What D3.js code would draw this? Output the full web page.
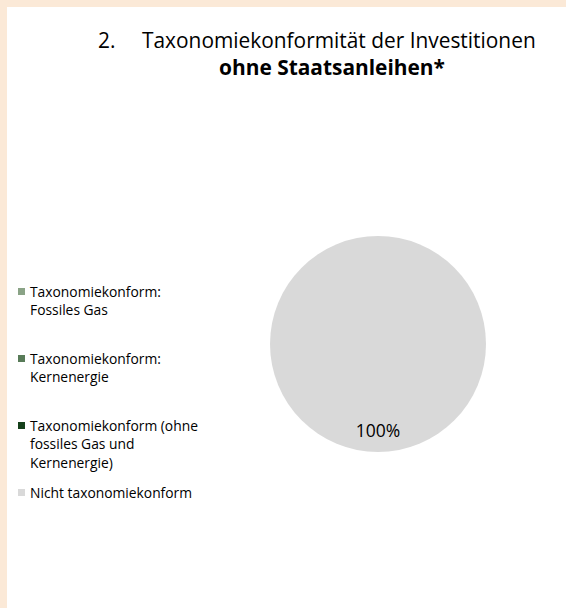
<!DOCTYPE html>
<html lang="de">
<head>
<meta charset="UTF-8">
<title>Taxonomiekonformität ohne Staatsanleihen</title>
<script src="https://d3js.org/d3.v7.min.js"></script>
<style>
  html, body { margin: 0; padding: 0; background: #fbe9d7; }
  svg { display: block; font-family: "Open Sans", "Noto Sans", sans-serif; }
</style>
</head>
<body>
<script>
  // chart data
  const categories = [
    "Taxonomiekonform: Fossiles Gas",
    "Taxonomiekonform: Kernenergie",
    "Taxonomiekonform (ohne fossiles Gas und Kernenergie)",
    "Nicht taxonomiekonform"
  ];
  const values = [0, 0, 0, 100];
  const colors = ["#8aa386", "#587b58", "#15401a", "#d9d9d9"];
  const titleNumber = "2.";
  const titleLine1 = "Taxonomiekonformität der Investitionen";
  const titleLine2 = "ohne Staatsanleihen*";

  const width = 566, height = 608;

  const svg = d3.select("body").append("svg")
      .attr("width", width)
      .attr("height", height);

  // scale a font size so the text spans the wanted width
  function fitSize(sel, target) {
    const w = sel.node().getComputedTextLength();
    const fs = parseFloat(sel.attr("font-size"));
    return fs * target / w;
  }

  // beige frame, white panel
  svg.append("rect")
      .attr("width", width).attr("height", height)
      .attr("fill", "#fbe9d7");
  svg.append("rect")
      .attr("x", 7).attr("y", 7)
      .attr("width", width - 7).attr("height", height - 7)
      .attr("fill", "#ffffff");

  // title
  const t1 = svg.append("text")
      .attr("x", 142).attr("y", 48)
      .attr("font-size", 20)
      .attr("fill", "#000")
      .text(titleLine1);
  const titleSize = fitSize(t1, 394);
  t1.attr("font-size", titleSize);

  svg.append("text")
      .attr("x", 98).attr("y", 48)
      .attr("font-size", titleSize)
      .attr("fill", "#000")
      .text(titleNumber);
  svg.append("text")
      .attr("x", 332).attr("y", 75)
      .attr("text-anchor", "middle")
      .attr("font-size", titleSize)
      .attr("font-weight", "bold")
      .attr("fill", "#000")
      .text(titleLine2);

  // pie
  const cx = 378, cy = 344, radius = 108;
  const data = categories.map((c, i) => ({ name: c, value: values[i], color: colors[i] }));

  const pie = d3.pie().sort(null).value(d => d.value);
  const arc = d3.arc().innerRadius(0).outerRadius(radius);
  const labelArc = d3.arc().innerRadius(radius * 0.8).outerRadius(radius * 0.8);

  const g = svg.append("g").attr("transform", `translate(${cx},${cy})`);
  const arcs = pie(data).filter(d => d.data.value > 0);

  g.selectAll("path.slice")
    .data(arcs)
    .join("path")
      .attr("class", "slice")
      .attr("d", arc)
      .attr("fill", d => d.data.color);

  g.selectAll("text.lbl")
    .data(arcs)
    .join("text")
      .attr("class", "lbl")
      .attr("transform", d => `translate(${labelArc.centroid(d)})`)
      .attr("text-anchor", "middle")
      .attr("dy", "0.35em")
      .attr("font-size", 17.5)
      .attr("fill", "#000")
      .text(d => d3.format(".0f")(d.data.value) + "%");

  // legend
  const probe = svg.append("text").attr("font-size", 13).text("Taxonomiekonform:");
  const legendSize = fitSize(probe, 131);
  probe.remove();

  const legendX = 18, legendTop = 292, legendStep = 67, lineH = 18.5, wrapW = 176;
  const legend = svg.append("g").attr("font-size", legendSize).attr("fill", "#000");

  const item = legend.selectAll("g.item")
    .data(data)
    .join("g")
      .attr("class", "item")
      .attr("transform", (d, i) => `translate(${legendX},${legendTop + i * legendStep})`);

  item.append("rect")
      .attr("x", 0).attr("y", -4)
      .attr("width", 7).attr("height", 7)
      .attr("fill", d => d.color);

  item.each(function(d) {
    const t = d3.select(this).append("text");
    const words = d.name.split(" ");
    let line = [], lineNo = 0;
    const addLine = n => t.append("tspan")
        .attr("x", 12).attr("y", n * lineH).attr("dy", "0.35em");
    let tspan = addLine(0);
    words.forEach(w => {
      line.push(w);
      tspan.text(line.join(" "));
      if (tspan.node().getComputedTextLength() > wrapW && line.length > 1) {
        line.pop();
        tspan.text(line.join(" "));
        line = [w];
        lineNo++;
        tspan = addLine(lineNo).text(w);
      }
    });
  });
</script>
</body>
</html>
